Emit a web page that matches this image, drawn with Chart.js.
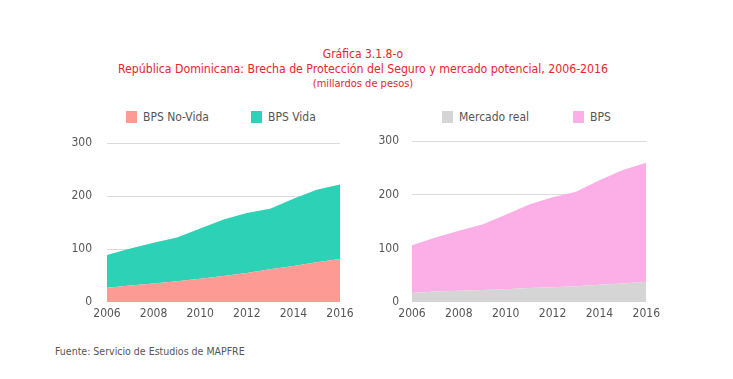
<!DOCTYPE html>
<html>
<head>
<meta charset="utf-8">
<script src="https://cdn.jsdelivr.net/npm/chart.js@4/dist/chart.umd.min.js"></script>
<style>
  html, body { margin:0; padding:0; background:#fff; }
  body { width:733px; height:379px; position:relative; overflow:hidden;
         font-family:"DejaVu Sans Condensed","Liberation Sans Narrow","Roboto",sans-serif; }
  .t { position:absolute; left:0; width:726px; text-align:center; color:#e3262d; }
  .lg { position:absolute; top:110px; font-size:12px; color:#555; line-height:14px; }
  .lg span.b { display:inline-block; width:11px; height:12px; vertical-align:-2px; margin-right:6px; }
  canvas { position:absolute; }
  #src { position:absolute; left:55px; top:345px; font-size:10.5px; color:#555; }
</style>
</head>
<body>
<div class="t" style="top:47px;font-size:12px;">Gráfica 3.1.8-o</div>
<div class="t" style="top:62px;font-size:12.2px;">República Dominicana: Brecha de Protección del Seguro y mercado potencial, 2006-2016</div>
<div class="t" style="top:77px;font-size:11px;">(millardos de pesos)</div>

<div class="lg" style="left:126px;"><span class="b" style="background:#fc9a93"></span>BPS No-Vida</div>
<div class="lg" style="left:251px;"><span class="b" style="background:#2dd1b6"></span>BPS Vida</div>
<div class="lg" style="left:442px;"><span class="b" style="background:#d5d5d5"></span>Mercado real</div>
<div class="lg" style="left:573px;"><span class="b" style="background:#fcaee6"></span>BPS</div>

<canvas id="c1" width="300" height="209" style="left:60px;top:121px;width:300px;height:209px;"></canvas>
<canvas id="c2" width="300" height="209" style="left:365px;top:121px;width:300px;height:209px;"></canvas>

<div id="src">Fuente: Servicio de Estudios de MAPFRE</div>

<script>
const years = ['2006','2007','2008','2009','2010','2011','2012','2013','2014','2015','2016'];
const bpsNoVida = [27, 31, 35, 39, 44, 49, 55, 62, 68, 75, 81];
const bpsVida   = [62, 70, 77, 83, 95, 107, 113, 114, 127, 137, 141];
const mercadoReal = [17, 19.5, 21, 22.5, 24, 26, 27.5, 29.5, 32, 34.5, 38];
const bpsTotal = [89, 101, 112, 122, 139, 156, 168, 176, 195, 212, 222];
const yTicks = [0, 100, 200, 300];

const FONT = "'DejaVu Sans Condensed','Liberation Sans Narrow',Roboto,sans-serif";

function makeChart(id, series, colors, padRight, yPad) {
  new Chart(document.getElementById(id), {
    type: 'line',
    data: {
      labels: years,
      datasets: series.map((d, i) => ({
        data: d,
        backgroundColor: colors[i],
        borderWidth: 0,
        pointRadius: 0,
        tension: 0,
        fill: i === 0 ? 'origin' : '-1'
      }))
    },
    options: {
      responsive: false,
      animation: false,
      layout: { padding: { top: 4, right: padRight, left: 0, bottom: 0 } },
      plugins: { legend: { display: false }, tooltip: { enabled: false } },
      scales: {
        x: {
          offset: false,
          grid: { display: false, drawTicks: false },
          border: { display: false },
          ticks: {
            autoSkip: false, maxRotation: 0, padding: 5,
            color: '#555', font: { family: FONT, size: 12 },
            callback: function(v, i) { return i % 2 === 0 ? years[i] : ''; }
          },
          afterFit: s => { s.height = 28; }
        },
        y: {
          stacked: true,
          min: 0, max: 300,
          z: 1,
          afterBuildTicks: s => { s.ticks = yTicks.map(v => ({ value: v })); },
          grid: {
            drawTicks: false,
            color: ctx => ctx.tick && ctx.tick.value === 0 ? 'rgba(0,0,0,0)' : 'rgba(110,110,110,0.25)',
            lineWidth: 1
          },
          border: { display: false },
          ticks: { padding: yPad, color: '#555', font: { family: FONT, size: 12 } },
          afterFit: s => { s.width = 47; }
        }
      }
    }
  });
}

makeChart('c1', [bpsNoVida, bpsVida], ['#fc9a93', '#2dd1b6'], 20, 15);
makeChart('c2', [mercadoReal, bpsTotal], ['#d5d5d5', '#fcaee6'], 18, 13);
</script>
</body>
</html>
